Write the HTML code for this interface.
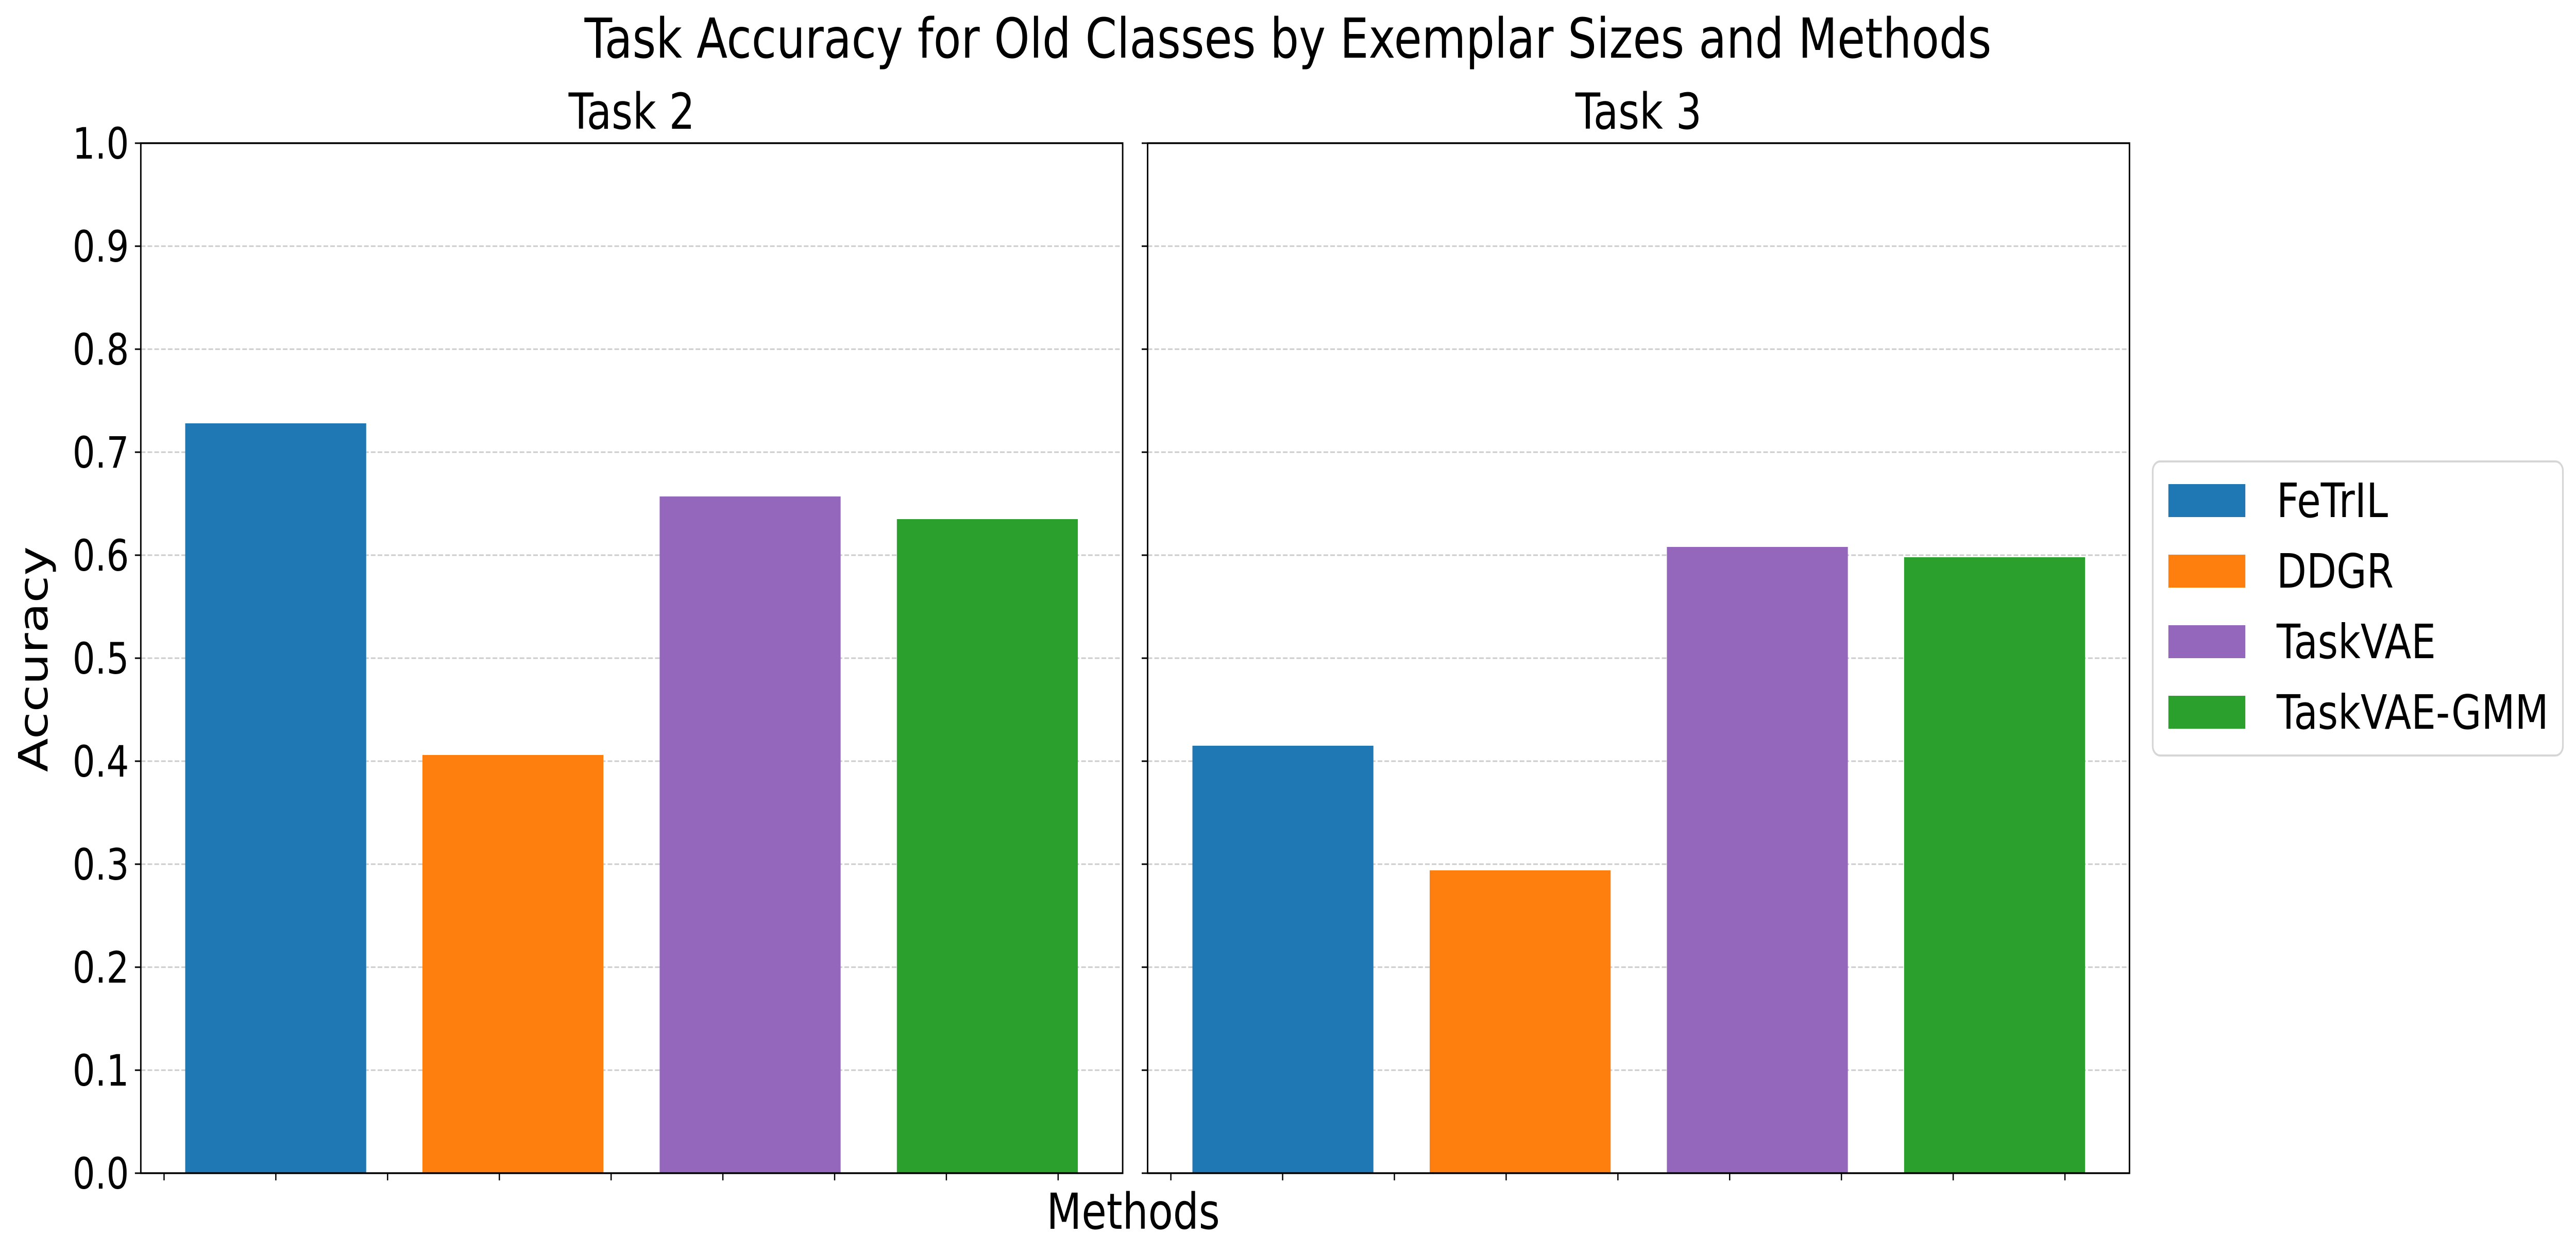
<!DOCTYPE html>
<html><head><meta charset="utf-8"><style>
html,body{margin:0;padding:0;background:#fff;width:100%;height:100%;overflow:hidden}
svg{display:block;width:100vw;height:100vh;font-family:"DejaVu Sans","Liberation Sans",sans-serif}
</style></head><body>
<svg id="chart" viewBox="0 0 6092 2433" preserveAspectRatio="none" xmlns="http://www.w3.org/2000/svg">
<rect width="6092" height="2433" fill="#fff"/>
<text x="3046" y="112" font-size="107" text-anchor="middle">Task Accuracy for Old Classes by Exemplar Sizes and Methods</text>
<text x="2680" y="2386" font-size="96" text-anchor="middle">Methods</text>
<text transform="translate(112,1280) rotate(-90)" font-size="96" text-anchor="middle">Accuracy</text>
<g id="panels"></g>
<g>
<rect x="5091" y="896" width="970" height="571" rx="18" fill="#fff" stroke="#d6d6d6" stroke-width="4"/>
<g id="legend-items"></g>
</g>
</svg>
<script>
const methods = ["FeTrIL","DDGR","TaskVAE","TaskVAE-GMM"];
const colors = ["#1f77b4","#ff7f0e","#9467bd","#2ca02c"];
const taskTitles = ["Task 2","Task 3"];
const task2Values = [0.728,0.406,0.657,0.635];
const task3Values = [0.415,0.294,0.608,0.598];
const yTicks = [0.0,0.1,0.2,0.3,0.4,0.5,0.6,0.7,0.8,0.9,1.0];
const xTickCount = 9;

const NS="http://www.w3.org/2000/svg";
function mk(tag, attrs, parent){const e=document.createElementNS(NS,tag);for(const k in attrs)e.setAttribute(k,attrs[k]);parent.appendChild(e);return e;}
const panelsG=document.getElementById('panels');
const panels=[{x0:333,x1:2655,vals:task2Values,title:taskTitles[0],labels:true,firstBar:438,firstTick:388},
              {x0:2714,x1:5036,vals:task3Values,title:taskTitles[1],labels:false,firstBar:2820,firstTick:2769}];
const yTop=278,yBot=2278;
function yScale(v){return yBot-(v-0)/(1-0)*(yBot-yTop);}
const barStep=561,barW=428,tickStep=264.3;
panels.forEach((p,pi)=>{
  const g=mk('g',{},panelsG);
  
  
  yTicks.forEach(t=>{
    const y=yScale(t);
    if(t>0&&t<1){const gl=mk('line',{x1:p.x0,x2:p.x1,y1:y,y2:y,stroke:'#cccccc','stroke-width':3,'stroke-dasharray':'11 5'},g);
      
      }
    const tk=mk('line',{x1:p.x0-14,x2:p.x0,y1:y,y2:y,stroke:'#000','stroke-width':3},g);
    
    
    if(p.labels){const tl=mk('text',{x:p.x0-28,y:y+30,'font-size':84,'text-anchor':'end'},g);tl.textContent=t.toFixed(1);
      
      }
  });
  p.vals.forEach((v,i)=>{
    const x=p.firstBar+i*barStep;
    const r=mk('rect',{x:x,y:yScale(v),width:barW,height:yBot-yScale(v),fill:colors[i]},g);
    
    
  });
  for(let k=0;k<xTickCount;k++){
    const x=p.firstTick+k*tickStep;
    const xt=mk('line',{x1:x,x2:x,y1:yBot,y2:yBot+14,stroke:'#000','stroke-width':3},g);
    
    
  }
  const fr=mk('rect',{x:p.x0,y:yTop,width:p.x1-p.x0,height:yBot-yTop,fill:'none',stroke:'#000','stroke-width':3.5},g);
  
  
  const tt=mk('text',{x:(p.x0+p.x1)/2,y:250,'font-size':96,'text-anchor':'middle'},g);
  tt.textContent=p.title;
  
  
});
const lg=document.getElementById('legend-items');
methods.forEach((m,i)=>{
  const y=940+i*137;
  const g=mk('g',{},lg);
  
  
  mk('rect',{x:5128,y:y,width:182,height:64,fill:colors[i]},g);
  const t=mk('text',{x:5384,y:y+64,'font-size':92},g);
  t.textContent=m;
});
</script>
</body></html>
